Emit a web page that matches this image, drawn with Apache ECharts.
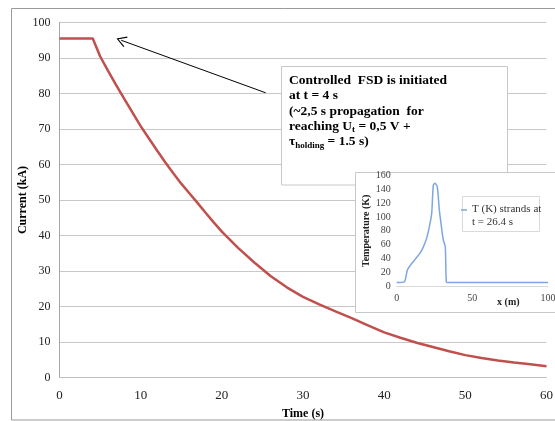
<!DOCTYPE html>
<html><head><meta charset="utf-8">
<script src="https://cdn.jsdelivr.net/npm/echarts@6/dist/echarts.min.js"></script>
<style>html,body{margin:0;padding:0;background:#fff}#c{width:555px;height:421px}</style>
</head><body><div id="c"></div>
<script>
// Main chart: current decay
const timeS = [0, 4.1, 5, 6, 7, 8, 9, 10, 11, 12, 13, 14, 15, 16, 17, 18, 19, 20, 22, 24, 26, 28, 30, 32, 34, 36, 38, 40, 42, 44, 46, 48, 50, 52, 54, 56, 58, 60];
const currentKA = [95.5, 95.5, 90.5, 86.3, 82.3, 78.4, 74.6, 70.8, 67.4, 64.0, 60.7, 57.6, 54.6, 51.9, 49.2, 46.4, 43.7, 41.1, 36.5, 32.4, 28.6, 25.4, 22.7, 20.6, 18.6, 16.7, 14.7, 12.7, 11.2, 9.8, 8.6, 7.4, 6.3, 5.5, 4.8, 4.2, 3.7, 3.2];
// Inset: temperature profile
const xPos = [0, 5, 7, 9, 11, 13, 15.4, 17.5, 19.8, 21.5, 23.1, 24.2, 25.3, 26.8, 28.2, 29.5, 30.8, 32.1, 32.8, 34, 50, 75, 100];
const tempK = [5, 6, 23, 30, 35.5, 41, 47.6, 56, 69.4, 85, 105, 146, 149, 144, 110, 87, 67, 57, 6, 5, 5, 5, 5];
const arrowTip = [7.6, 95.0];
const arrowTail = [25.4, 80.2];
const annotationLines = ['Controlled  FSD is initiated', 'at t = 4 s', '(~2,5 s propagation  for', 'reaching U{sub|t} = 0,5 V +', '\u03c4{sub|holding} = 1.5 s)'];
const insetName = 'T (K) strands at\nt = 26.4 s';

const serif = 'Liberation Serif';
const chart = echarts.init(document.getElementById('c'));
const mainData = timeS.map((t, i) => [t, currentKA[i]]);
const insetData = xPos.map((x, i) => [x, tempK[i]]);
const chevron = 'path://M0,0 L6,9 L5,9.6 L0,2 L-5,9.6 L-6,9 Z';
const legendIcon = 'path://M0,0 L6,0 L6,1.3 L0,1.3 Z M0,12.7 L0.01,12.7 L0.01,12.71 Z';

chart.setOption({
  animation: false,
  backgroundColor: '#fff',
  grid: [
    {left: 59.5, right: 8.5, top: 22.5, bottom: 43.5, outerBoundsMode: 'none', containLabel: false},
    {left: 396.7, right: 7, top: 175.7, bottom: 135, outerBoundsMode: 'none', containLabel: false}
  ],
  xAxis: [
    {type: 'value', gridIndex: 0, min: 0, max: 60, interval: 10,
      name: 'Time (s)', nameLocation: 'middle', nameGap: 30, nameMoveOverlap: false,
      nameTextStyle: {fontFamily: serif, fontWeight: 'bold', fontSize: 12, color: '#000'},
      axisLine: {show: true, lineStyle: {color: '#BFBFBF'}}, axisTick: {show: false},
      splitLine: {show: false},
      axisLabel: {fontFamily: serif, fontSize: 13, color: '#222', margin: 12}},
    {type: 'value', gridIndex: 1, min: 0, max: 100, interval: 50, z: 25,
      name: 'x (m)', nameLocation: 'middle', nameGap: 11, nameMoveOverlap: false,
      nameTextStyle: {fontFamily: serif, fontWeight: 'bold', fontSize: 10, color: '#222', padding: [0, 0, 0, 72]},
      axisLine: {show: true, lineStyle: {color: '#D9D9D9'}}, axisTick: {show: false},
      splitLine: {show: false},
      axisLabel: {fontFamily: serif, fontSize: 10, color: '#444', margin: 7}}
  ],
  yAxis: [
    {type: 'value', gridIndex: 0, min: 0, max: 100, interval: 10,
      name: 'Current (kA)', nameLocation: 'middle', nameGap: 31, nameRotate: 90, nameMoveOverlap: false,
      nameTextStyle: {fontFamily: serif, fontWeight: 'bold', fontSize: 12, color: '#000'},
      axisLine: {show: true, lineStyle: {color: '#A6A6A6'}}, axisTick: {show: false},
      splitLine: {show: true, lineStyle: {color: '#C8C8C8', width: 1}},
      axisLabel: {fontFamily: serif, fontSize: 12, color: '#222', margin: 9}},
    {type: 'value', gridIndex: 1, min: 0, max: 160, interval: 20, z: 25,
      name: 'Temperature (K)', nameLocation: 'middle', nameGap: 25, nameRotate: 90, nameMoveOverlap: false,
      nameTextStyle: {fontFamily: serif, fontWeight: 'bold', fontSize: 10, color: '#222'},
      axisLine: {show: false}, axisTick: {show: false},
      splitLine: {show: false},
      axisLabel: {fontFamily: serif, fontSize: 10, color: '#444', margin: 6}}
  ],
  legend: {
    data: [insetName], left: 461, top: 203, z: 25, padding: 0,
    itemWidth: 6, itemHeight: 12.7, itemGap: 0, icon: legendIcon,
    textStyle: {fontFamily: serif, fontSize: 11, color: '#333', lineHeight: 12.7}
  },
  series: [
    {type: 'line', name: 'Current', xAxisIndex: 0, yAxisIndex: 0, z: 2,
      data: mainData, showSymbol: false, symbol: 'none', smooth: false,
      lineStyle: {color: '#C0504D', width: 2.5},
      markLine: {silent: true, symbol: [chevron, 'none'], symbolSize: [11, 10],
        label: {show: false},
        lineStyle: {color: '#000', width: 1, type: 'solid'},
        data: [[{coord: arrowTip}, {coord: arrowTail}]]}},
    {type: 'line', name: insetName, xAxisIndex: 1, yAxisIndex: 1, z: 25,
      data: insetData, showSymbol: false, symbol: 'none', smooth: 0.25,
      itemStyle: {color: '#7EA6E0'},
      lineStyle: {color: '#7EA6E0', width: 1.5}}
  ],
  graphic: [
    {type: 'rect', z: -1, shape: {x: 11.5, y: 8.5, width: 560, height: 411.5}, style: {fill: 'none', stroke: '#9A9A9A', lineWidth: 1}},
    {type: 'rect', z: 10, shape: {x: 281.5, y: 66.5, width: 226, height: 118.5}, style: {fill: '#fff', stroke: '#C8C8C8', lineWidth: 1}},
    {type: 'text', z: 11, x: 289, y: 73,
      style: {text: annotationLines.join('\n'), fontFamily: serif, fontWeight: 'bold', fontSize: 13.5, lineHeight: 15.3, fill: '#000',
        rich: {sub: {fontFamily: serif, fontWeight: 'bold', fontSize: 9, lineHeight: 15.3, padding: [7, 0, 0, 0]}}}},
    {type: 'rect', z: 12, shape: {x: 355.5, y: 172.5, width: 210, height: 140}, style: {fill: '#fff', stroke: '#C8C8C8', lineWidth: 1}},
    {type: 'rect', z: 13, shape: {x: 462.5, y: 196.5, width: 77, height: 35}, style: {fill: '#fff', stroke: '#D9D9D9', lineWidth: 1}}
  ]
});
</script></body></html>
